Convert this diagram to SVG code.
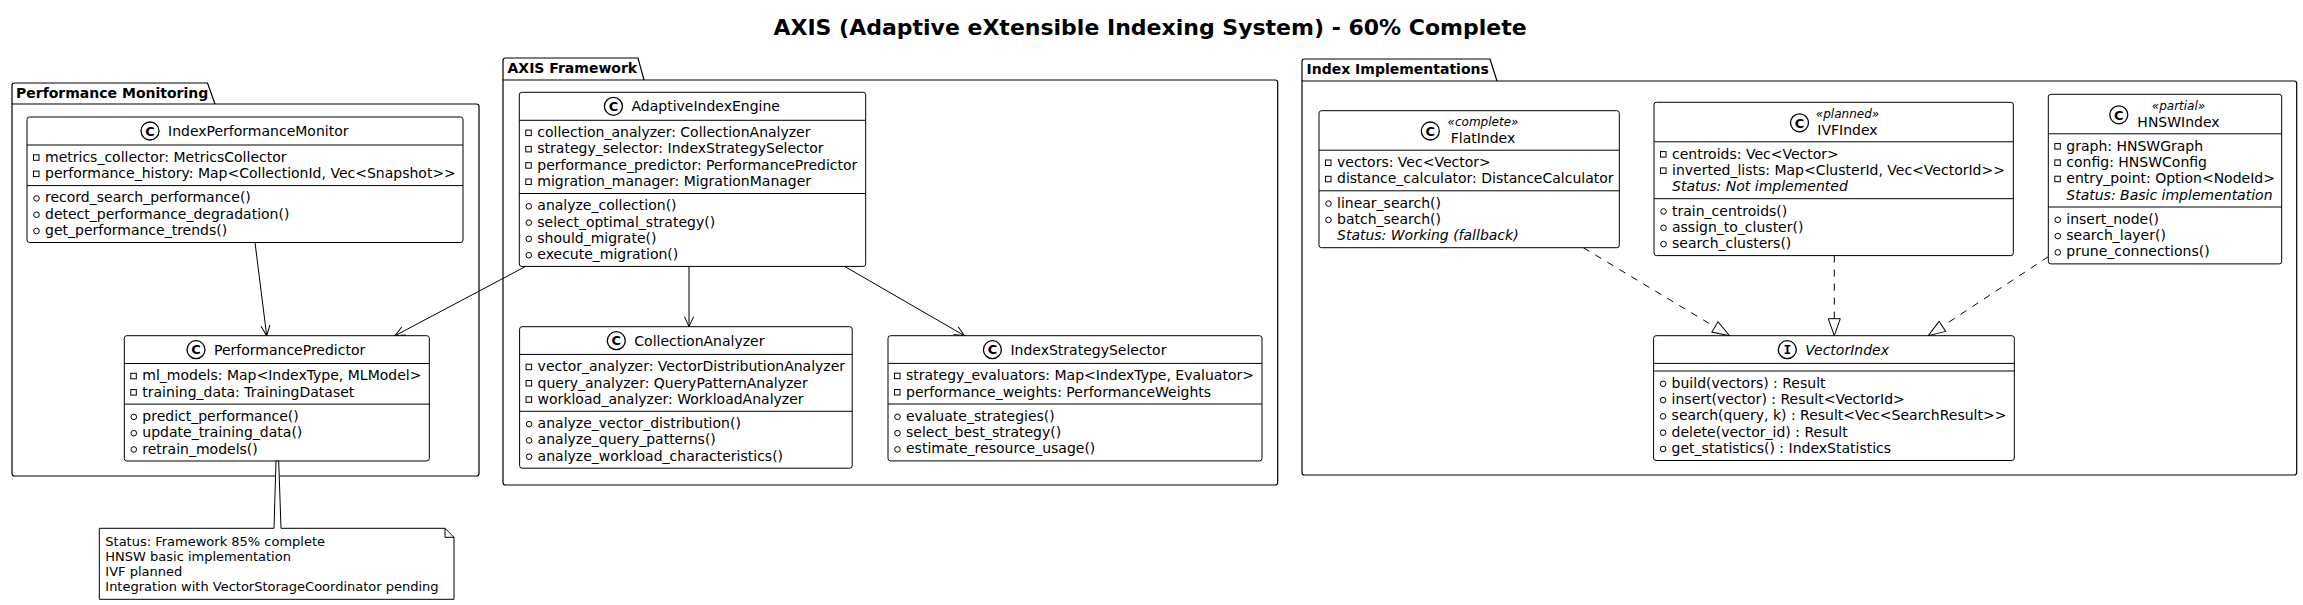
<svg xmlns="http://www.w3.org/2000/svg" width="2303" height="605" viewBox="0 0 2303 605">
<defs>
<style>
text{font-family:"DejaVu Sans","Liberation Sans",sans-serif;fill:#000}
.t{font-size:14px}
.it{font-size:14px;font-style:italic}
.st{font-size:12px;font-style:italic}
.pk{font-size:14px;font-weight:bold}
.title{font-size:22px;font-weight:bold}
.nt{font-size:13px}
.spl{font-size:13px;font-weight:bold}
.box{fill:#fff;stroke:#000;stroke-width:1}
.ln{stroke:#000;stroke-width:1;fill:none}
.pkg{fill:none;stroke:#000;stroke-width:1.2}
.pv{fill:none;stroke:#000;stroke-width:1}
.pb{fill:none;stroke:#000;stroke-width:1}
.spot{fill:#fff;stroke:#000;stroke-width:1.3}
.edge{stroke:#000;stroke-width:1;fill:none}
.dash{stroke-dasharray:7,7}
</style>
<marker id="arr" markerUnits="userSpaceOnUse" markerWidth="12" markerHeight="12" refX="0" refY="0" orient="auto" overflow="visible">
<path d="M-10,-4.5 L0,0 L-10,4.5" fill="none" stroke="#000" stroke-width="1"/>
</marker>
<marker id="tri" markerUnits="userSpaceOnUse" markerWidth="20" markerHeight="14" refX="0" refY="0" orient="auto" overflow="visible">
<path d="M-17,-6 L0,0 L-17,6 Z" fill="#fff" stroke="#000" stroke-width="1" stroke-dasharray="none"/>
</marker>
</defs>
<rect width="2303" height="605" fill="#fff"/>
<text class="title" x="1150" y="35" text-anchor="middle">AXIS (Adaptive eXtensible Indexing System) - 60% Complete</text>

<g id="pkg-performance-monitoring">
<path class="pkg" d="M12,104 V85.5 Q12,83 14.5,83 H207.5 L215,104"/>
<path class="pkg" d="M12,104 H476.5 Q479,104 479,106.5 V473.5 Q479,476 476.5,476 H14.5 Q12,476 12,473.5 Z"/>
<text class="pk" x="16" y="97.5">Performance Monitoring</text>
</g>
<g id="pkg-axis-framework">
<path class="pkg" d="M503,80 V60.5 Q503,58 505.5,58 H638 L644,80"/>
<path class="pkg" d="M503,80 H1275.2 Q1277.7,80 1277.7,82.5 V482.5 Q1277.7,485 1275.2,485 H505.5 Q503,485 503,482.5 Z"/>
<text class="pk" x="507.5" y="72.5">AXIS Framework</text>
</g>
<g id="pkg-index-implementations">
<path class="pkg" d="M1302,81 V61.5 Q1302,59 1304.5,59 H1490 L1497,81"/>
<path class="pkg" d="M1302,81 H2294.2 Q2296.7,81 2296.7,83.5 V472.5 Q2296.7,475 2294.2,475 H1304.5 Q1302,475 1302,472.5 Z"/>
<text class="pk" x="1306.5" y="74">Index Implementations</text>
</g>

<g id="connectors">
<path class="edge" d="M255,242.5 L266.7,335.7" marker-end="url(#arr)"/>
<path class="edge" d="M525.7,266.4 L395,335.7" marker-end="url(#arr)"/>
<path class="edge" d="M689,266.4 L689,326.7" marker-end="url(#arr)"/>
<path class="edge" d="M844.6,266.4 L964.5,335.7" marker-end="url(#arr)"/>
<path class="edge dash" d="M1583.3,247.7 L1729.5,335.7" marker-end="url(#tri)"/>
<path class="edge dash" d="M1834.3,255.6 L1834.3,335.7" marker-end="url(#tri)"/>
<path class="edge dash" d="M2048.3,256.7 L1928.2,335.7" marker-end="url(#tri)"/>
</g>

<g id="IndexPerformanceMonitor">
<rect class="box" x="27" y="117" width="436" height="125.5" rx="2.5"/>
<line class="ln" x1="27" y1="145" x2="463" y2="145"/>
<line class="ln" x1="27" y1="185.6" x2="463" y2="185.6"/>
<circle class="spot" cx="150" cy="131" r="9"/>
<text class="spl" x="150" y="135.7" text-anchor="middle">C</text>
<text class="t" x="168" y="136">IndexPerformanceMonitor</text>
<rect class="pv" x="33.5" y="154.8" width="5.5" height="5.5"/>
<text class="t" x="45" y="161.8">metrics_collector: MetricsCollector</text>
<rect class="pv" x="33.5" y="171.1" width="5.5" height="5.5"/>
<text class="t" x="45" y="178.1">performance_history: Map&lt;CollectionId, Vec&lt;Snapshot&gt;&gt;</text>
<circle class="pb" cx="36.5" cy="198.4" r="2.8"/>
<text class="t" x="45" y="202.4">record_search_performance()</text>
<circle class="pb" cx="36.5" cy="214.7" r="2.8"/>
<text class="t" x="45" y="218.7">detect_performance_degradation()</text>
<circle class="pb" cx="36.5" cy="231" r="2.8"/>
<text class="t" x="45" y="235">get_performance_trends()</text>
</g>

<g id="PerformancePredictor">
<rect class="box" x="124.3" y="335.7" width="305" height="125.3" rx="2.5"/>
<line class="ln" x1="124.3" y1="363.5" x2="429.3" y2="363.5"/>
<line class="ln" x1="124.3" y1="404.1" x2="429.3" y2="404.1"/>
<circle class="spot" cx="196" cy="349.7" r="9"/>
<text class="spl" x="196" y="354.4" text-anchor="middle">C</text>
<text class="t" x="214" y="354.7">PerformancePredictor</text>
<rect class="pv" x="130.8" y="373.3" width="5.5" height="5.5"/>
<text class="t" x="142.3" y="380.3">ml_models: Map&lt;IndexType, MLModel&gt;</text>
<rect class="pv" x="130.8" y="389.6" width="5.5" height="5.5"/>
<text class="t" x="142.3" y="396.6">training_data: TrainingDataset</text>
<circle class="pb" cx="133.8" cy="416.9" r="2.8"/>
<text class="t" x="142.3" y="420.9">predict_performance()</text>
<circle class="pb" cx="133.8" cy="433.2" r="2.8"/>
<text class="t" x="142.3" y="437.2">update_training_data()</text>
<circle class="pb" cx="133.8" cy="449.5" r="2.8"/>
<text class="t" x="142.3" y="453.5">retrain_models()</text>
</g>

<g id="note">
<path class="box" d="M99.3,528.3 H274 L276,461 H278.7 L281,528.3 H445 L454,537.3 V599.3 H99.3 Z"/>
<path class="ln" d="M445,528.3 V537.3 H454"/>
<text class="nt" x="105.3" y="545.5">Status: Framework 85% complete</text>
<text class="nt" x="105.3" y="560.6">HNSW basic implementation</text>
<text class="nt" x="105.3" y="575.7">IVF planned</text>
<text class="nt" x="105.3" y="590.8">Integration with VectorStorageCoordinator pending</text>
</g>

<g id="AdaptiveIndexEngine">
<rect class="box" x="519.3" y="92.3" width="346.4" height="174.1" rx="2.5"/>
<line class="ln" x1="519.3" y1="120.3" x2="865.7" y2="120.3"/>
<line class="ln" x1="519.3" y1="193.5" x2="865.7" y2="193.5"/>
<circle class="spot" cx="613.4" cy="106.3" r="9"/>
<text class="spl" x="613.4" y="111" text-anchor="middle">C</text>
<text class="t" x="631.5" y="111.3">AdaptiveIndexEngine</text>
<rect class="pv" x="525.8" y="130.1" width="5.5" height="5.5"/>
<text class="t" x="537.3" y="137.1">collection_analyzer: CollectionAnalyzer</text>
<rect class="pv" x="525.8" y="146.4" width="5.5" height="5.5"/>
<text class="t" x="537.3" y="153.4">strategy_selector: IndexStrategySelector</text>
<rect class="pv" x="525.8" y="162.7" width="5.5" height="5.5"/>
<text class="t" x="537.3" y="169.7">performance_predictor: PerformancePredictor</text>
<rect class="pv" x="525.8" y="179" width="5.5" height="5.5"/>
<text class="t" x="537.3" y="186">migration_manager: MigrationManager</text>
<circle class="pb" cx="528.8" cy="206.3" r="2.8"/>
<text class="t" x="537.3" y="210.3">analyze_collection()</text>
<circle class="pb" cx="528.8" cy="222.6" r="2.8"/>
<text class="t" x="537.3" y="226.6">select_optimal_strategy()</text>
<circle class="pb" cx="528.8" cy="238.9" r="2.8"/>
<text class="t" x="537.3" y="242.9">should_migrate()</text>
<circle class="pb" cx="528.8" cy="255.2" r="2.8"/>
<text class="t" x="537.3" y="259.2">execute_migration()</text>
</g>

<g id="CollectionAnalyzer">
<rect class="box" x="519.6" y="326.7" width="332.6" height="141.5" rx="2.5"/>
<line class="ln" x1="519.6" y1="354.4" x2="852.2" y2="354.4"/>
<line class="ln" x1="519.6" y1="411.3" x2="852.2" y2="411.3"/>
<circle class="spot" cx="616.3" cy="340.7" r="9"/>
<text class="spl" x="616.3" y="345.4" text-anchor="middle">C</text>
<text class="t" x="634.3" y="345.7">CollectionAnalyzer</text>
<rect class="pv" x="526.1" y="364.2" width="5.5" height="5.5"/>
<text class="t" x="537.6" y="371.2">vector_analyzer: VectorDistributionAnalyzer</text>
<rect class="pv" x="526.1" y="380.5" width="5.5" height="5.5"/>
<text class="t" x="537.6" y="387.5">query_analyzer: QueryPatternAnalyzer</text>
<rect class="pv" x="526.1" y="396.8" width="5.5" height="5.5"/>
<text class="t" x="537.6" y="403.8">workload_analyzer: WorkloadAnalyzer</text>
<circle class="pb" cx="529.1" cy="424.1" r="2.8"/>
<text class="t" x="537.6" y="428.1">analyze_vector_distribution()</text>
<circle class="pb" cx="529.1" cy="440.4" r="2.8"/>
<text class="t" x="537.6" y="444.4">analyze_query_patterns()</text>
<circle class="pb" cx="529.1" cy="456.7" r="2.8"/>
<text class="t" x="537.6" y="460.7">analyze_workload_characteristics()</text>
</g>

<g id="IndexStrategySelector">
<rect class="box" x="888" y="335.7" width="374" height="125.2" rx="2.5"/>
<line class="ln" x1="888" y1="363.4" x2="1262" y2="363.4"/>
<line class="ln" x1="888" y1="404" x2="1262" y2="404"/>
<circle class="spot" cx="992.4" cy="349.7" r="9"/>
<text class="spl" x="992.4" y="354.4" text-anchor="middle">C</text>
<text class="t" x="1010.4" y="354.7">IndexStrategySelector</text>
<rect class="pv" x="894.5" y="373.2" width="5.5" height="5.5"/>
<text class="t" x="906" y="380.2">strategy_evaluators: Map&lt;IndexType, Evaluator&gt;</text>
<rect class="pv" x="894.5" y="389.5" width="5.5" height="5.5"/>
<text class="t" x="906" y="396.5">performance_weights: PerformanceWeights</text>
<circle class="pb" cx="897.5" cy="416.8" r="2.8"/>
<text class="t" x="906" y="420.8">evaluate_strategies()</text>
<circle class="pb" cx="897.5" cy="433.1" r="2.8"/>
<text class="t" x="906" y="437.1">select_best_strategy()</text>
<circle class="pb" cx="897.5" cy="449.4" r="2.8"/>
<text class="t" x="906" y="453.4">estimate_resource_usage()</text>
</g>

<g id="FlatIndex">
<rect class="box" x="1319" y="110.7" width="300.3" height="137" rx="2.5"/>
<line class="ln" x1="1319" y1="150.2" x2="1619.3" y2="150.2"/>
<line class="ln" x1="1319" y1="190.8" x2="1619.3" y2="190.8"/>
<circle class="spot" cx="1430.3" cy="131" r="9"/>
<text class="spl" x="1430.3" y="135.7" text-anchor="middle">C</text>
<text class="st" x="1483" y="126.2" text-anchor="middle">«complete»</text>
<text class="t" x="1483" y="143.2" text-anchor="middle">FlatIndex</text>
<rect class="pv" x="1325.5" y="160" width="5.5" height="5.5"/>
<text class="t" x="1337" y="167">vectors: Vec&lt;Vector&gt;</text>
<rect class="pv" x="1325.5" y="176.3" width="5.5" height="5.5"/>
<text class="t" x="1337" y="183.3">distance_calculator: DistanceCalculator</text>
<circle class="pb" cx="1328.5" cy="203.6" r="2.8"/>
<text class="t" x="1337" y="207.6">linear_search()</text>
<circle class="pb" cx="1328.5" cy="219.9" r="2.8"/>
<text class="t" x="1337" y="223.9">batch_search()</text>
<text class="it" x="1337" y="240.2">Status: Working (fallback)</text>
</g>

<g id="IVFIndex">
<rect class="box" x="1654" y="102.3" width="359.3" height="153.3" rx="2.5"/>
<line class="ln" x1="1654" y1="141.8" x2="2013.3" y2="141.8"/>
<line class="ln" x1="1654" y1="198.7" x2="2013.3" y2="198.7"/>
<circle class="spot" cx="1799.5" cy="122.8" r="9"/>
<text class="spl" x="1799.5" y="127.5" text-anchor="middle">C</text>
<text class="st" x="1847.5" y="118" text-anchor="middle">«planned»</text>
<text class="t" x="1847.5" y="135" text-anchor="middle">IVFIndex</text>
<rect class="pv" x="1660.5" y="151.6" width="5.5" height="5.5"/>
<text class="t" x="1672" y="158.6">centroids: Vec&lt;Vector&gt;</text>
<rect class="pv" x="1660.5" y="167.9" width="5.5" height="5.5"/>
<text class="t" x="1672" y="174.9">inverted_lists: Map&lt;ClusterId, Vec&lt;VectorId&gt;&gt;</text>
<text class="it" x="1672" y="191.2">Status: Not implemented</text>
<circle class="pb" cx="1663.5" cy="211.5" r="2.8"/>
<text class="t" x="1672" y="215.5">train_centroids()</text>
<circle class="pb" cx="1663.5" cy="227.8" r="2.8"/>
<text class="t" x="1672" y="231.8">assign_to_cluster()</text>
<circle class="pb" cx="1663.5" cy="244.1" r="2.8"/>
<text class="t" x="1672" y="248.1">search_clusters()</text>
</g>

<g id="HNSWIndex">
<rect class="box" x="2048.3" y="94.3" width="233.4" height="169.6" rx="2.5"/>
<line class="ln" x1="2048.3" y1="133.8" x2="2281.7" y2="133.8"/>
<line class="ln" x1="2048.3" y1="207" x2="2281.7" y2="207"/>
<circle class="spot" cx="2118.8" cy="114.8" r="9"/>
<text class="spl" x="2118.8" y="119.5" text-anchor="middle">C</text>
<text class="st" x="2178.5" y="110" text-anchor="middle">«partial»</text>
<text class="t" x="2178.5" y="127" text-anchor="middle">HNSWIndex</text>
<rect class="pv" x="2054.8" y="143.6" width="5.5" height="5.5"/>
<text class="t" x="2066.3" y="150.6">graph: HNSWGraph</text>
<rect class="pv" x="2054.8" y="159.9" width="5.5" height="5.5"/>
<text class="t" x="2066.3" y="166.9">config: HNSWConfig</text>
<rect class="pv" x="2054.8" y="176.2" width="5.5" height="5.5"/>
<text class="t" x="2066.3" y="183.2">entry_point: Option&lt;NodeId&gt;</text>
<text class="it" x="2066.3" y="199.5">Status: Basic implementation</text>
<circle class="pb" cx="2057.8" cy="219.8" r="2.8"/>
<text class="t" x="2066.3" y="223.8">insert_node()</text>
<circle class="pb" cx="2057.8" cy="236.1" r="2.8"/>
<text class="t" x="2066.3" y="240.1">search_layer()</text>
<circle class="pb" cx="2057.8" cy="252.4" r="2.8"/>
<text class="t" x="2066.3" y="256.4">prune_connections()</text>
</g>

<g id="VectorIndex">
<rect class="box" x="1653.6" y="335.7" width="360.7" height="124.8" rx="2.5"/>
<line class="ln" x1="1653.6" y1="363.4" x2="2014.3" y2="363.4"/>
<line class="ln" x1="1653.6" y1="371" x2="2014.3" y2="371"/>
<circle class="spot" cx="1787.3" cy="349.7" r="9"/>
<text class="spl" x="1787.3" y="354.4" text-anchor="middle" style="font-family:'DejaVu Sans Mono',monospace">I</text>
<text class="it" x="1805.3" y="354.7">VectorIndex</text>
<circle class="pb" cx="1663.1" cy="383.8" r="2.8"/>
<text class="t" x="1671.6" y="387.8">build(vectors) : Result</text>
<circle class="pb" cx="1663.1" cy="400.1" r="2.8"/>
<text class="t" x="1671.6" y="404.1">insert(vector) : Result&lt;VectorId&gt;</text>
<circle class="pb" cx="1663.1" cy="416.4" r="2.8"/>
<text class="t" x="1671.6" y="420.4">search(query, k) : Result&lt;Vec&lt;SearchResult&gt;&gt;</text>
<circle class="pb" cx="1663.1" cy="432.7" r="2.8"/>
<text class="t" x="1671.6" y="436.7">delete(vector_id) : Result</text>
<circle class="pb" cx="1663.1" cy="449" r="2.8"/>
<text class="t" x="1671.6" y="453">get_statistics() : IndexStatistics</text>
</g>
</svg>
